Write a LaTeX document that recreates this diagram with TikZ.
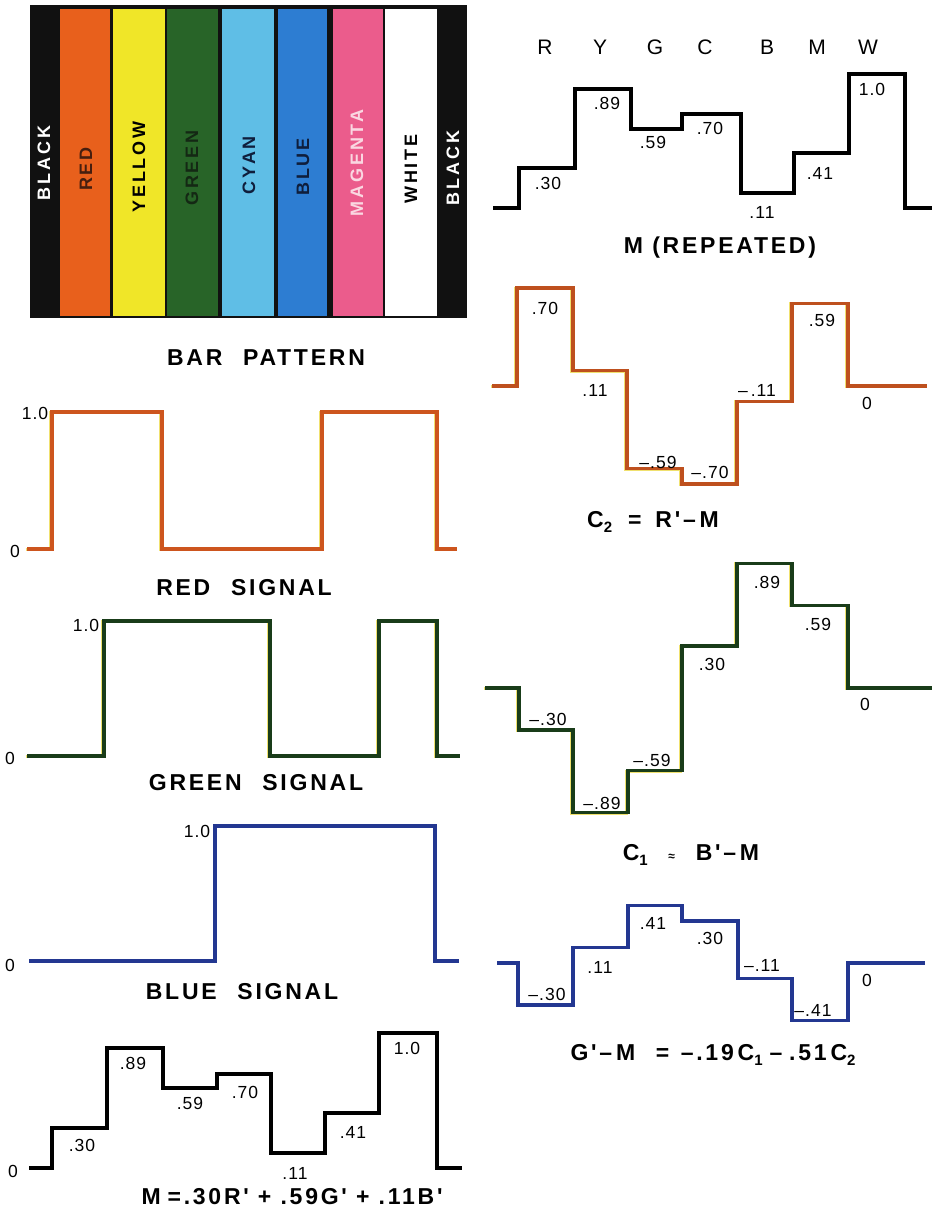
\documentclass[tikz,border=0pt]{standalone}
\usepackage{fontspec}
\setmainfont{Liberation Sans}
\newfontfamily\titlefont[LetterSpace=12]{Liberation Sans}
\newfontfamily\numfont[LetterSpace=6]{Liberation Sans}
\newfontfamily\barfont[LetterSpace=16]{Liberation Sans}
\definecolor{barblack}{RGB}{17,17,17}
\definecolor{barred}{RGB}{232,96,28}
\definecolor{baryellow}{RGB}{240,230,40}
\definecolor{bargreen}{RGB}{40,100,40}
\definecolor{barcyan}{RGB}{95,190,230}
\definecolor{barblue}{RGB}{45,125,210}
\definecolor{barmagenta}{RGB}{235,92,140}
\definecolor{sigred}{RGB}{205,85,30}
\definecolor{sigcred}{RGB}{190,80,30}
\definecolor{siggreen}{RGB}{25,60,25}
\definecolor{sigblue}{RGB}{35,55,145}
\definecolor{fringe}{RGB}{240,225,110}
\definecolor{lblred}{RGB}{70,30,15}
\definecolor{lbldark}{RGB}{20,40,20}
\definecolor{lblnavy}{RGB}{15,30,60}
\definecolor{lblpink}{RGB}{250,215,225}
\tikzset{
  wave/.style={line width=4pt, line join=miter, line cap=butt},
  cwave/.style={line width=3.5pt, line join=miter, line cap=butt},
  halo/.style={line width=3pt, draw=fringe, line join=miter, line cap=butt, shift={(-1.5,0.5)}},
  num/.style={font=\numfont\fontsize{17.5}{17.5}\selectfont, inner sep=0pt},
  ttl/.style={font=\titlefont\bfseries\fontsize{23}{23}\selectfont, inner sep=0pt},
  col/.style={font=\fontsize{21}{21}\selectfont, inner sep=0pt},
  barlbl/.style={font=\barfont\bfseries\fontsize{18}{18}\selectfont, rotate=90, inner sep=0pt},
}
\newcommand{\sub}[1]{\raisebox{-0.35ex}{\fontsize{15}{15}\selectfont #1}}
\begin{document}
\begin{tikzpicture}[x=1pt,y=-1pt]
\useasboundingbox[fill=white] (0,0) rectangle (933,1216);
% ---------- bar pattern ----------
\fill[barblack] (30,5) rectangle (467,318);
\fill[barred] (60,9) rectangle (110,316);
\fill[baryellow] (113,9) rectangle (165,316);
\fill[bargreen] (167,9) rectangle (218,316);
\fill[barcyan] (222,9) rectangle (274,316);
\fill[barblue] (278,9) rectangle (327,316);
\fill[barmagenta] (333,9) rectangle (383,316);
\fill[white] (385,9) rectangle (437,316);
\node[barlbl, text=white] (lblack1) at (44,163) {BLACK};
\node[barlbl, text=lblred] (lred) at (86,169) {RED};
\node[barlbl, text=black] (lyellow) at (139,167) {YELLOW};
\node[barlbl, text=lbldark] (lgreen) at (192,168) {GREEN};
\node[barlbl, text=lblnavy] (lcyan) at (249,165) {CYAN};
\node[barlbl, text=lblnavy] (lblue) at (303,167) {BLUE};
\node[barlbl, text=lblpink] (lmagenta) at (357,163) {MAGENTA};
\node[barlbl, text=black] (lwhite) at (411,169) {WHITE};
\node[barlbl, text=white] (lblack2) at (453,168) {BLACK};
\node[ttl] (tbar) at (266,358) {BAR\hspace{0.9em}PATTERN};
% ---------- red signal ----------
\def\pRed{(27,549) -| (52,412) -| (162,549) -| (322,412) -| (437,549) -- (457,549)}
\draw[halo] \pRed;
\draw[cwave, sigred] \pRed;
\node[num] (r10) at (35,413) {1.0};
\node[num] (r0) at (15,551) {0};
\node[ttl] (tred) at (244,588) {RED\hspace{0.9em}SIGNAL};
% ---------- green signal ----------
\def\pGreen{(27,756) -| (104,621) -| (270,756) -| (379,621) -| (437,756) -- (460,756)}
\draw[halo] \pGreen;
\draw[cwave, siggreen] \pGreen;
\node[num] (g10) at (86,625) {1.0};
\node[num] (g0) at (10,758) {0};
\node[ttl] (tgreen) at (256,783) {GREEN\hspace{0.9em}SIGNAL};
% ---------- blue signal ----------
\def\pBlue{(29,961) -| (215,826) -| (435,961) -- (459,961)}
\draw[cwave, sigblue] \pBlue;
\node[num] (b10) at (197,831) {1.0};
\node[num] (b0) at (10,965) {0};
\node[ttl] (tblue) at (242,992) {BLUE\hspace{0.9em}SIGNAL};
% ---------- M (bottom left) ----------
\draw[wave, black] (29,1168) -| (52,1127.5) -| (107,1047.9) -| (163,1088.4) -| (217,1073.5)
  -| (271,1153.2) -| (325,1112.7) -| (379,1033) -| (437,1168) -- (462,1168);
\node[num] (m0) at (13,1171) {0};
\node[num] (m30) at (82,1145) {.30};
\node[num] (m89) at (133,1063) {.89};
\node[num] (m59) at (190,1103) {.59};
\node[num] (m70) at (245,1092) {.70};
\node[num] (m11) at (295,1173) {.11};
\node[num] (m41) at (353,1132) {.41};
\node[num] (m10) at (407,1048) {1.0};
\node[ttl] (tm) at (292,1197) {M\hspace{0.3em}=.30R' + .59G' + .11B'};
% ---------- M repeated (top right) ----------
\node[col] (cR) at (545,47) {R};
\node[col] (cY) at (600,47) {Y};
\node[col] (cG) at (655,47) {G};
\node[col] (cC) at (705,47) {C};
\node[col] (cB) at (767,47) {B};
\node[col] (cM) at (817,47) {M};
\node[col] (cW) at (868,47) {W};
\draw[wave, black] (493,208) -| (519,167.8) -| (575,88.7) -| (631,128.9) -| (682,114.2)
  -| (741,193.3) -| (794,153.1) -| (849,74) -| (905,208) -- (932,208);
\node[num] (n30) at (548,183) {.30};
\node[num] (n89) at (607,103) {.89};
\node[num] (n59) at (653,142) {.59};
\node[num] (n70) at (710,128) {.70};
\node[num] (n11) at (762,212) {.11};
\node[num] (n41) at (820,173) {.41};
\node[num] (n10) at (872,89) {1.0};
\node[ttl] (trep) at (720,248) {M\hspace{0.4em}(REPEATED)};
% ---------- C2 ----------
\def\pCtwo{(492,386) -| (517,288) -| (573,370.6) -| (627,468.6) -| (682,484) -| (737,401.4) -| (792,303.4) -| (848,386) -- (927,386)}
\draw[halo] \pCtwo;
\draw[cwave, sigcred] \pCtwo;
\node[num] (c270) at (545,308) {.70};
\node[num] (c211) at (595,390) {.11};
\node[num] (c2m59) at (658,462) {–.59};
\node[num] (c2m70) at (710,472) {–.70};
\node[num] (c2m11) at (757,390) {–\,.11};
\node[num] (c259) at (822,320) {.59};
\node[num] (c20) at (867,403) {0};
\node[ttl] (tc2) at (653,522) {C\sub{2}\hspace{0.7em}=\hspace{0.6em}R'–\,M};
% ---------- C1 ----------
\def\pCone{(485,688) -| (519,730) -| (573,812.6) -| (628,770.6) -| (682,646) -| (737,563.4) -| (792,605.4) -| (848,688) -- (932,688)}
\draw[halo] \pCone;
\draw[cwave, siggreen] \pCone;
\node[num] (c1m30) at (548,719) {–.30};
\node[num] (c1m89) at (602,803) {–.89};
\node[num] (c1m59) at (652,760) {–.59};
\node[num] (c130) at (712,664) {.30};
\node[num] (c189) at (767,582) {.89};
\node[num] (c159) at (818,624) {.59};
\node[num] (c10) at (865,704) {0};
\node[ttl] (tc1) at (691,855) {C\sub{1}\hspace{0.9em}{\fontsize{12}{12}\selectfont ≈}\hspace{0.9em}B'–\,M};
% ---------- G' - M ----------
\def\pGM{(497,963) -| (518,1005) -| (573,947.6) -| (628,905.6) -| (682,921) -| (738,978.4) -| (792,1020.4) -| (848,963) -- (925,963)}
\draw[cwave, sigblue] \pGM;
\node[num] (gm30) at (547,994) {–.30};
\node[num] (gm11) at (600,967) {.11};
\node[num] (gm41) at (653,923) {.41};
\node[num] (gm30b) at (710,938) {.30};
\node[num] (gmm11) at (762,965) {–.11};
\node[num] (gmm41) at (813,1010) {–.41};
\node[num] (gm0) at (867,980) {0};
\node[ttl] (tgm) at (713,1055) {G'–\,M\hspace{0.9em}=\hspace{0.5em}–.19\,C\sub{1}\hspace{0.3em}–\hspace{0.3em}.51\,C\sub{2}};
\end{tikzpicture}
\end{document}
